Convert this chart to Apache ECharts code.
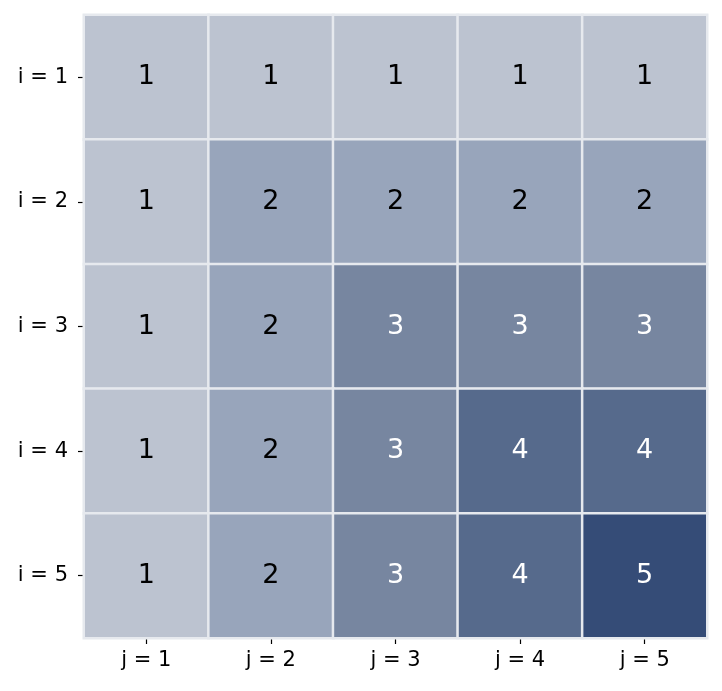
<!DOCTYPE html>
<html>
<head>
<meta charset="utf-8">
<script src="https://cdn.jsdelivr.net/npm/echarts@6/dist/echarts.min.js"></script>
<style>html,body{margin:0;padding:0;background:#fff;}#c{width:722px;height:691px;}</style>
</head>
<body>
<div id="c"></div>
<script>
const xLabels = ['j = 1', 'j = 2', 'j = 3', 'j = 4', 'j = 5'];
const yLabels = ['i = 1', 'i = 2', 'i = 3', 'i = 4', 'i = 5'];
const values = [
  [1, 1, 1, 1, 1],
  [1, 2, 2, 2, 2],
  [1, 2, 3, 3, 3],
  [1, 2, 3, 4, 4],
  [1, 2, 3, 4, 5]
];
const levelColors = ['#bcc3d0', '#98a5bb', '#7786a0', '#566a8c', '#354c77'];
const labelColors = ['#000', '#000', '#fff', '#fff', '#fff'];

const data = [];
values.forEach((row, i) => row.forEach((v, j) => {
  data.push({
    value: [j, i, v],
    label: { color: labelColors[v - 1] }
  });
}));

const chart = echarts.init(document.getElementById('c'), null, { renderer: 'canvas' });
chart.setOption({
  animation: false,
  backgroundColor: '#fff',
  textStyle: { fontFamily: 'DejaVu Sans' },
  grid: { left: 84, top: 15, width: 623, height: 623, containLabel: false },
  xAxis: {
    type: 'category',
    data: xLabels,
    axisLine: { show: false },
    axisTick: { show: true, alignWithLabel: true, length: 6, lineStyle: { color: '#000', width: 1.2 } },
    axisLabel: { color: '#000', fontSize: 21, margin: 12, fontFamily: 'DejaVu Sans' },
    splitArea: { show: false },
    splitLine: { show: false }
  },
  yAxis: {
    type: 'category',
    data: yLabels,
    inverse: true,
    axisLine: { show: false },
    axisTick: { show: true, alignWithLabel: true, length: 6, lineStyle: { color: '#000', width: 1.2 } },
    axisLabel: { color: '#000', fontSize: 21, margin: 16, fontFamily: 'DejaVu Sans' },
    splitArea: { show: false },
    splitLine: { show: false }
  },
  visualMap: {
    type: 'piecewise',
    show: false,
    dimension: 2,
    pieces: levelColors.map((c, k) => ({ value: k + 1, color: c }))
  },
  series: [{
    type: 'heatmap',
    data: data,
    label: { show: true, fontSize: 27, fontFamily: 'DejaVu Sans' },
    itemStyle: { borderColor: 'rgba(230,233,238,1)', borderWidth: 2.5 },
    emphasis: { disabled: true }
  }]
});
</script>
</body>
</html>
